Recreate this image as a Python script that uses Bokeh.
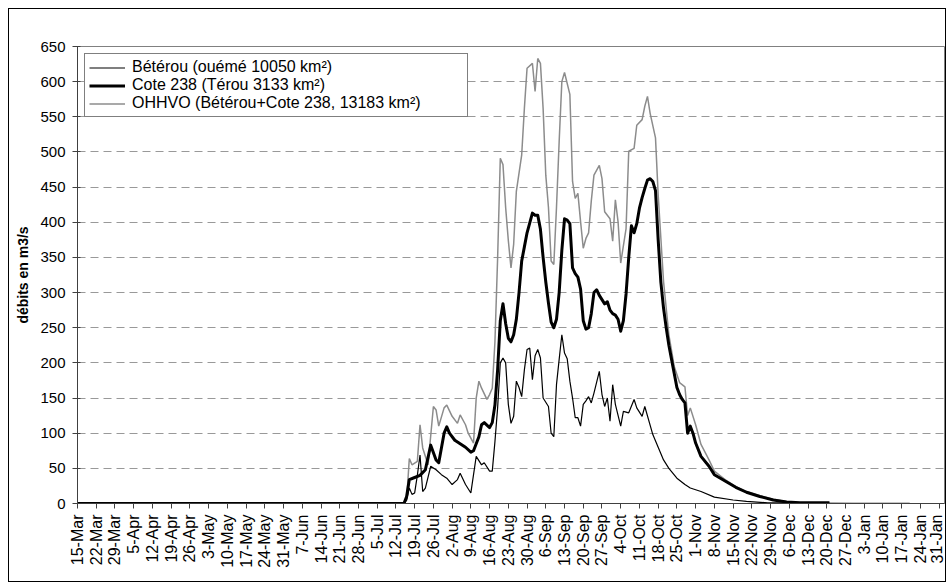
from bokeh.plotting import figure
from bokeh.models import Range1d, FixedTicker, Legend, LegendItem
from bokeh.embed import file_html
from bokeh.resources import INLINE

# ---- data (day = days since 15-Mar, q = discharge m3/s) ----
tick_labels = ["15-Mar", "22-Mar", "29-Mar", "5-Apr", "12-Apr", "19-Apr", "26-Apr",
               "3-May", "10-May", "17-May", "24-May", "31-May", "7-Jun", "14-Jun",
               "21-Jun", "28-Jun", "5-Jul", "12-Jul", "19-Jul", "26-Jul", "2-Aug",
               "9-Aug", "16-Aug", "23-Aug", "30-Aug", "6-Sep", "13-Sep", "20-Sep",
               "27-Sep", "4-Oct", "11-Oct", "18-Oct", "25-Oct", "1-Nov", "8-Nov",
               "15-Nov", "22-Nov", "29-Nov", "6-Dec", "13-Dec", "20-Dec", "27-Dec",
               "3-Jan", "10-Jan", "17-Jan", "24-Jan", "31-Jan"]
y_ticks = [0, 50, 100, 150, 200, 250, 300, 350, 400, 450, 500, 550, 600, 650]

beterou_day = [0, 122, 123, 124, 125, 126, 127, 128, 129, 130, 132, 134, 136, 138, 140, 142,
               143, 145, 147, 149, 151, 152, 154, 155, 156, 157, 158, 159, 160, 161, 162,
               163, 164, 165, 166, 167, 168, 169, 170, 171, 172, 173, 174, 176, 177, 178,
               179, 180, 181, 182, 183, 184, 185, 186, 187, 188, 189, 190, 191, 192, 193,
               195, 196, 197, 198, 199, 200, 201, 203, 204, 206, 208, 209, 211, 212, 215,
               217, 219, 221, 224, 227, 229, 233, 238, 245, 250, 258, 270, 281]
beterou_q = [0, 0, 5, 22, 13, 15, 40, 69, 17, 22, 53, 48, 41, 36, 27, 34,
             43, 27, 15, 67, 55, 58, 46, 46, 88, 136, 200, 207, 200, 141, 114,
             124, 174, 165, 152, 190, 219, 221, 176, 210, 219, 207, 150, 138, 100, 95,
             169, 205, 240, 214, 206, 174, 150, 122, 122, 110, 141, 146, 152, 143, 157,
             188, 155, 138, 150, 117, 169, 141, 110, 131, 129, 148, 136, 124, 138, 98,
             80, 62, 50, 36, 27, 22, 17, 9, 5, 3, 1, 1, 0.5]

cote_day = [0, 122, 123, 124, 126, 128, 130, 132, 134, 135, 137, 138, 139, 141, 143, 145,
            147, 148, 150, 151, 152, 154, 155, 156, 157, 158, 159, 160, 161, 162, 163,
            164, 165, 166, 167, 168, 170, 171, 172, 173, 174, 175, 176, 177, 178, 179,
            180, 181, 182, 183, 184, 185, 186, 187, 188, 189, 190, 191, 192, 193, 194,
            195, 196, 197, 198, 199, 200, 201, 202, 203, 204, 205, 206, 207, 208, 209,
            210, 211, 212, 213, 214, 215, 216, 217, 218, 219, 220, 221, 222, 223, 224,
            225, 226, 227, 228, 229, 230, 231, 233, 236, 238, 242, 246, 250, 255, 260,
            265, 270, 281]
cote_q = [0, 0, 10, 34, 37, 40, 48, 83, 62, 58, 100, 109, 100, 90, 85, 80,
          73, 75, 95, 112, 115, 108, 115, 140, 190, 260, 284, 256, 235, 230, 240,
          262, 300, 345, 365, 385, 413, 410, 410, 390, 350, 315, 285, 258, 250, 262,
          300, 360, 405, 403, 398, 335, 327, 322, 305, 260, 248, 250, 270, 300, 304,
          296, 290, 284, 287, 275, 270, 268, 262, 245, 260, 298, 350, 395, 385, 398,
          420, 435, 448, 460, 462, 458, 445, 375, 315, 278, 250, 225, 205, 185, 165,
          155, 148, 143, 100, 110, 100, 86, 67, 53, 41, 32, 23, 16, 10, 5,
          2, 1, 1]

ohhvo_day = [0, 122, 123, 124, 125, 127, 128, 129, 131, 133, 134, 135, 137, 138, 140, 142,
             143, 145, 146, 148, 149, 150, 151, 153, 154, 155, 156, 157, 158, 159, 160,
             161, 162, 163, 164, 166, 167, 168, 170, 171, 172, 173, 174, 175, 176, 177,
             178, 179, 180, 181, 182, 184, 185, 186, 187, 188, 189, 190, 191, 192, 193,
             195, 196, 197, 198, 199, 200, 201, 202, 203, 205, 206, 208, 209, 211, 212,
             213, 214, 216, 217, 219, 221, 223, 225, 227, 228, 229, 231, 233, 236, 238,
             242, 246, 250, 255, 260, 265, 270, 290, 311]
ohhvo_q = [0, 0, 5, 64, 55, 60, 112, 79, 55, 138, 133, 110, 136, 140, 124, 114,
           126, 112, 100, 86, 150, 174, 164, 148, 155, 164, 230, 349, 491, 482, 421,
           374, 335, 369, 444, 496, 562, 619, 626, 586, 633, 626, 562, 467, 421, 345,
           340, 421, 515, 600, 613, 582, 458, 434, 441, 401, 363, 377, 385, 430, 467,
           481, 462, 415, 410, 405, 373, 432, 401, 342, 391, 501, 505, 538, 546, 565,
           579, 555, 520, 439, 316, 240, 195, 172, 166, 125, 136, 112, 84, 62, 46,
           34, 24, 17, 11, 6, 2.4, 1, 0.5, 0.5]

FONT = "Liberation Sans"

p = figure(width=938, height=574, output_backend="svg", toolbar_location=None,
           x_range=Range1d(0, 324), y_range=Range1d(0, 650),
           min_border_left=68, min_border_right=3, min_border_top=37, min_border_bottom=80)
p.margin = (8, 0, 0, 8)
p.styles = {"border": "1px solid #000000"}
p.background_fill_color = "white"
p.border_fill_color = "white"
p.outline_line_color = "#808080"
p.outline_line_width = 1

r_ohhvo = p.line(ohhvo_day, ohhvo_q, line_color="#8c8c8c", line_width=1.5)
r_bet = p.line(beterou_day, beterou_q, line_color="#000000", line_width=1.2)
r_cote = p.line(cote_day, cote_q, line_color="#000000", line_width=3, line_join="round")

# axes
p.xaxis.ticker = FixedTicker(ticks=[7 * i for i in range(len(tick_labels))])
p.xaxis.major_label_overrides = {7 * i: lab for i, lab in enumerate(tick_labels)}
p.xaxis.major_label_orientation = 1.5708
p.xaxis.major_label_text_font = FONT
p.xaxis.major_label_text_font_size = "16px"
p.xaxis.major_label_text_color = "#000000"
p.xaxis.major_label_standoff = 6
p.xaxis.major_tick_out = 5
p.xaxis.major_tick_in = 0
p.xaxis.minor_tick_line_color = None
p.xaxis.axis_line_color = "#404040"
p.xaxis.major_tick_line_color = "#404040"

p.yaxis.ticker = FixedTicker(ticks=y_ticks)
p.yaxis.major_label_text_font = FONT
p.yaxis.major_label_text_font_size = "15px"
p.yaxis.major_label_text_color = "#000000"
p.yaxis.major_label_standoff = 7
p.yaxis.major_tick_out = 5
p.yaxis.major_tick_in = 3
p.yaxis.minor_tick_line_color = None
p.yaxis.axis_line_color = "#404040"
p.yaxis.major_tick_line_color = "#404040"
p.yaxis.axis_label = "débits en m3/s"
p.yaxis.axis_label_text_font = FONT
p.yaxis.axis_label_text_font_style = "bold"
p.yaxis.axis_label_text_font_size = "14px"
p.yaxis.axis_label_text_color = "#000000"
p.yaxis.axis_label_standoff = 6

p.xgrid.grid_line_color = None
p.ygrid.grid_line_color = "#999999"
p.ygrid.grid_line_dash = "8 5"
p.ygrid.grid_line_width = 1

legend = Legend(items=[
    LegendItem(label="Bétérou (ouémé 10050 km²)", renderers=[r_bet]),
    LegendItem(label="Cote 238 (Térou 3133 km²)", renderers=[r_cote]),
    LegendItem(label="OHHVO (Bétérou+Cote 238, 13183 km²)", renderers=[r_ohhvo]),
], location="top_left")
legend.margin = 7
legend.padding = 4
legend.spacing = 0
legend.glyph_width = 36
legend.glyph_height = 17
legend.label_height = 17
legend.label_width = 331
legend.label_standoff = 7
legend.label_text_font = FONT
legend.label_text_font_size = "16px"
legend.label_text_color = "#000000"
legend.border_line_color = "#000000"
legend.border_line_width = 1
legend.background_fill_color = "white"
legend.background_fill_alpha = 1
p.add_layout(legend, "center")

open("out.html", "w").write(file_html(p, INLINE))
